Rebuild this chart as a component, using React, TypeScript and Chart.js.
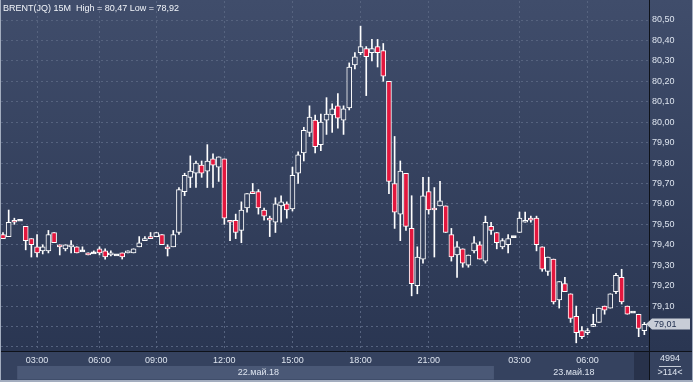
import React, { useEffect, useRef } from 'react';
import { Chart, registerables } from 'chart.js';

Chart.register(...registerables);

// ---- data (15-minute candles) ----
const opens = [
  79.45, 79.44, 79.52, 79.52, 79.49, 79.43, 79.39, 79.37, 79.37, 79.46,
  79.40, 79.38, 79.39, 79.39, 79.37, 79.36, 79.36, 79.38, 79.37, 79.35,
  79.35, 79.36, 79.36, 79.36, 79.39, 79.42, 79.44, 79.44, 79.45, 79.39,
  79.39, 79.46, 79.66, 79.73, 79.75, 79.79, 79.76, 79.82, 79.78, 79.82,
  79.52, 79.52, 79.47, 79.58, 79.66, 79.66, 79.57, 79.53, 79.51, 79.59,
  79.60, 79.575, 79.75, 79.85, 79.95, 80.01, 79.89, 80.01, 80.035, 80.08,
  80.01, 80.07, 80.28, 80.34, 80.36, 80.34, 80.37, 80.35, 80.20, 79.70,
  79.55, 79.75, 79.48, 79.20, 79.33, 79.66, 79.58, 79.59, 79.59, 79.45,
  79.35, 79.38, 79.30, 79.37, 79.40, 79.32, 79.49, 79.46, 79.39, 79.40,
  79.44, 79.46, 79.51, 79.53, 79.53, 79.39, 79.27, 79.33, 79.13, 79.21,
  79.16, 79.05, 78.98, 78.97, 79.00, 79.02, 79.10, 79.09, 79.17, 79.24,
  79.10, 79.07, 79.06, 78.98,
];
const highs = [
  79.46, 79.57, 79.53, 79.52, 79.49, 79.43, 79.45, 79.40, 79.47, 79.46,
  79.40, 79.40, 79.42, 79.39, 79.39, 79.36, 79.37, 79.39, 79.38, 79.37,
  79.35, 79.36, 79.37, 79.38, 79.44, 79.44, 79.46, 79.46, 79.45, 79.40,
  79.47, 79.68, 79.75, 79.835, 79.81, 79.81, 79.89, 79.845, 79.83, 79.82,
  79.52, 79.55, 79.61, 79.65, 79.70, 79.67, 79.58, 79.54, 79.63, 79.64,
  79.61, 79.78, 79.855, 79.975, 80.08, 80.035, 80.04, 80.12, 80.09, 80.14,
  80.08, 80.29, 80.34, 80.47, 80.37, 80.405, 80.405, 80.385, 80.20, 79.93,
  79.81, 79.75, 79.64, 79.39, 79.73, 79.73, 79.68, 79.71, 79.59, 79.48,
  79.415, 79.38, 79.35, 79.44, 79.415, 79.54, 79.51, 79.46, 79.43, 79.45,
  79.44, 79.56, 79.56, 79.54, 79.54, 79.39, 79.34, 79.33, 79.22, 79.24,
  79.16, 79.10, 79.00, 78.99, 79.06, 79.09, 79.10, 79.16, 79.26, 79.28,
  79.10, 79.07, 79.06, 79.02,
];
const lows = [
  79.43, 79.44, 79.50, 79.52, 79.375, 79.34, 79.34, 79.355, 79.36, 79.41,
  79.35, 79.37, 79.36, 79.36, 79.37, 79.35, 79.36, 79.35, 79.33, 79.345,
  79.35, 79.33, 79.36, 79.36, 79.39, 79.42, 79.43, 79.44, 79.40, 79.345,
  79.39, 79.45, 79.64, 79.68, 79.68, 79.73, 79.68, 79.68, 79.71, 79.50,
  79.42, 79.43, 79.41, 79.56, 79.65, 79.55, 79.52, 79.44, 79.46, 79.51,
  79.53, 79.565, 79.70, 79.81, 79.93, 79.85, 79.86, 79.94, 79.95, 79.97,
  79.94, 80.06, 80.26, 80.33, 80.13, 80.30, 80.27, 80.20, 79.65, 79.48,
  79.42, 79.47, 79.15, 79.16, 79.31, 79.55, 79.34, 79.59, 79.46, 79.32,
  79.24, 79.29, 79.29, 79.36, 79.33, 79.31, 79.45, 79.38, 79.38, 79.36,
  79.44, 79.46, 79.51, 79.51, 79.37, 79.27, 79.25, 79.11, 79.09, 79.17,
  79.02, 78.92, 78.94, 78.96, 79.00, 79.02, 79.06, 79.09, 79.16, 79.11,
  79.06, 79.07, 78.95, 78.96,
];
const closes = [
  79.43, 79.51, 79.51, 79.52, 79.42, 79.40, 79.36, 79.39, 79.45, 79.41,
  79.39, 79.40, 79.40, 79.36, 79.37, 79.35, 79.36, 79.36, 79.34, 79.36,
  79.35, 79.34, 79.37, 79.38, 79.41, 79.43, 79.43, 79.46, 79.40, 79.38,
  79.45, 79.67, 79.74, 79.76, 79.80, 79.75, 79.81, 79.79, 79.83, 79.53,
  79.51, 79.46, 79.57, 79.65, 79.65, 79.58, 79.54, 79.52, 79.60, 79.61,
  79.57, 79.74, 79.84, 79.96, 80.025, 79.88, 80.00, 80.04, 80.065, 80.02,
  80.065, 80.27, 80.32, 80.37, 80.32, 80.36, 80.34, 80.225, 79.71, 79.56,
  79.76, 79.49, 79.21, 79.34, 79.64, 79.57, 79.57, 79.615, 79.46, 79.34,
  79.39, 79.31, 79.35, 79.41, 79.33, 79.51, 79.47, 79.41, 79.42, 79.43,
  79.44, 79.53, 79.52, 79.52, 79.40, 79.28, 79.34, 79.12, 79.22, 79.17,
  79.04, 78.97, 78.95, 78.98, 79.01, 79.09, 79.08, 79.16, 79.25, 79.12,
  79.06, 79.07, 78.99, 79.01,
];

const timeTickIdx = [6, 17, 27, 39, 51, 63, 75, 91, 103];
const timeTickLabels = ['03:00', '06:00', '09:00', '12:00', '15:00', '18:00', '21:00', '03:00', '06:00'];
const yTickValues = [78.9, 79.0, 79.1, 79.2, 79.3, 79.4, 79.5, 79.6, 79.7, 79.8, 79.9, 80.0, 80.1, 80.2, 80.3, 80.4, 80.5];
const dateLabels = ['22.май.18', '23.май.18'];
const dateLabelIdx = [45, 100.6];
const dateBandIdx = [2.5, 86.5];
const symbolName = 'BRENT(JQ) 15M';
const highValue = 80.47;
const lowValue = 78.92;
const totalBars = 4994;
const visibleBars = 114;

// ---- styles ----
const W = 693;
const H = 382;
const BG_TOP = '#404d6b';
const BG_BOT = '#2a3652';
const RED = '#e3173e';
const GRID = '#56637f';
const TEXT = '#dde4ef';
const FONT = '"Liberation Sans", Arial, sans-serif';

const fmt = (v: number) => v.toFixed(2).replace('.', ',');

export default function App() {
  const ref = useRef<HTMLCanvasElement | null>(null);

  useEffect(() => {
    const canvas = ref.current;
    if (!canvas) return;
    const ctx0 = canvas.getContext('2d')!;
    const grad = ctx0.createLinearGradient(0, 0, 0, 351);
    grad.addColorStop(0, BG_TOP);
    grad.addColorStop(1, BG_BOT);

    const idx = opens.map((_, i) => i);
    const bodies = idx.map((i) => {
      const o = opens[i];
      const c = closes[i];
      if (Math.abs(o - c) < 0.004) {
        const m = (o + c) / 2;
        return { x: i, y: [m - 0.005, m + 0.005] };
      }
      return { x: i, y: [o, c] };
    });
    const wicks = idx.map((i) => ({ x: i, y: [lows[i], highs[i]] }));

    const framePlugin = {
      id: 'frame',
      beforeDraw(chart: any) {
        const { ctx, scales } = chart;
        const xs = scales.x;
        ctx.save();
        ctx.fillStyle = grad;
        ctx.fillRect(0, 0, W, H);
        // bottom axis panel
        ctx.fillStyle = '#35425f';
        ctx.fillRect(0, 351, W, 31);
        const b0 = xs.getPixelForValue(dateBandIdx[0]);
        const b1 = xs.getPixelForValue(dateBandIdx[1]);
        ctx.fillStyle = '#4a5876';
        ctx.fillRect(b0, 366, b1 - b0, 13.5);
        ctx.fillStyle = '#28324b';
        ctx.fillRect(634, 352, 15, 28);
        ctx.restore();
      },
      afterDraw(chart: any) {
        const { ctx, scales } = chart;
        const xs = scales.x;
        const ys = scales.y;
        ctx.save();
        // separator lines
        ctx.strokeStyle = '#0e121a';
        ctx.lineWidth = 1;
        ctx.beginPath();
        ctx.moveTo(649.5, 0);
        ctx.lineTo(649.5, H);
        ctx.moveTo(0, 351.5);
        ctx.lineTo(W, 351.5);
        ctx.stroke();
        // outer frame
        ctx.fillStyle = '#a3adbf';
        ctx.fillRect(0, 0, 1, H);
        ctx.fillRect(W - 1, 0, 1, H);
        ctx.fillRect(0, 380, W, 2);

        // title
        ctx.font = '9px ' + FONT;
        ctx.fillStyle = '#f2f5fa';
        ctx.textAlign = 'left';
        ctx.textBaseline = 'alphabetic';
        ctx.fillText(`${symbolName}  High = ${fmt(highValue)} Low = ${fmt(lowValue)}`, 3, 11);

        // date labels
        ctx.fillStyle = TEXT;
        ctx.textAlign = 'center';
        ctx.textBaseline = 'middle';
        dateLabels.forEach((t, k) => {
          ctx.fillText(t, xs.getPixelForValue(dateLabelIdx[k]), 373);
        });

        // bar counters
        ctx.fillText(String(totalBars), 670, 359);
        ctx.fillText('>' + visibleBars + '<', 670, 373);
        ctx.fillStyle = '#c5ccd8';
        ctx.fillRect(659, 366, 22, 1);

        // last price tag
        const last = closes[closes.length - 1];
        const py = Math.round(ys.getPixelForValue(last));
        ctx.fillStyle = '#c8cdd7';
        ctx.beginPath();
        ctx.moveTo(646, py);
        ctx.lineTo(652, py - 5.5);
        ctx.lineTo(690, py - 5.5);
        ctx.lineTo(690, py + 5.5);
        ctx.lineTo(652, py + 5.5);
        ctx.closePath();
        ctx.fill();
        ctx.fillStyle = '#1d2c4c';
        ctx.textAlign = 'left';
        ctx.fillText(fmt(last), 654, py + 0.5);
        ctx.restore();
      },
    };

    const chart = new Chart(canvas, {
      type: 'bar',
      data: {
        datasets: [
          {
            label: 'body',
            data: bodies as any,
            order: 0,
            grouped: false,
            barThickness: 5,
            borderWidth: 1,
            borderSkipped: false,
            borderColor: '#ffffff',
            backgroundColor: (c: any) => {
              const i = c.dataIndex;
              if (i === undefined) return RED;
              if (Math.abs(opens[i] - closes[i]) < 0.004) return '#ffffff';
              return closes[i] >= opens[i] ? grad : RED;
            },
          } as any,
          {
            label: 'wick',
            data: wicks as any,
            order: 1,
            grouped: false,
            barThickness: 1,
            borderWidth: 0,
            backgroundColor: '#ffffff',
          } as any,
        ],
      },
      options: {
        animation: false,
        responsive: false,
        maintainAspectRatio: false,
        layout: { padding: { left: 1, top: 1, right: 0, bottom: 0 } },
        plugins: {
          legend: { display: false },
          tooltip: { enabled: false },
          title: { display: false },
        },
        scales: {
          x: {
            type: 'linear',
            offset: false,
            min: -0.353,
            max: 113.82,
            grid: { color: GRID, drawTicks: false, lineWidth: 1, offset: false },
            border: { display: false, dash: [2, 3] },
            ticks: {
              color: TEXT,
              font: { family: FONT, size: 9 },
              padding: 4,
              autoSkip: false,
              maxRotation: 0,
              callback: (v: any) => {
                const k = timeTickIdx.indexOf(Number(v));
                return k >= 0 ? timeTickLabels[k] : '';
              },
            },
            afterBuildTicks: (s: any) => {
              s.ticks = timeTickIdx.map((v) => ({ value: v }));
            },
            afterFit: (s: any) => {
              s.height = 31;
              s.paddingLeft = 0;
              s.paddingRight = 0;
            },
          } as any,
          y: {
            type: 'linear',
            position: 'right',
            min: 78.88,
            max: 80.593,
            grid: { color: GRID, drawTicks: false, lineWidth: 1 },
            border: { display: false, dash: [2, 3] },
            ticks: {
              color: TEXT,
              font: { family: FONT, size: 9 },
              padding: 3,
              callback: (v: any) => (Number(v) < 79.05 ? '' : fmt(Number(v))),
            },
            afterBuildTicks: (s: any) => {
              s.ticks = yTickValues.map((v) => ({ value: v }));
            },
            afterFit: (s: any) => {
              s.width = 44;
              s.paddingTop = 0;
              s.paddingBottom = 0;
            },
          } as any,
        },
      },
      plugins: [framePlugin],
    });

    return () => chart.destroy();
  }, []);

  return (
    <div style={{ position: 'fixed', left: 0, top: 0, width: W, height: H }}>
      <canvas ref={ref} width={W} height={H} style={{ display: 'block', width: W, height: H }} />
    </div>
  );
}
